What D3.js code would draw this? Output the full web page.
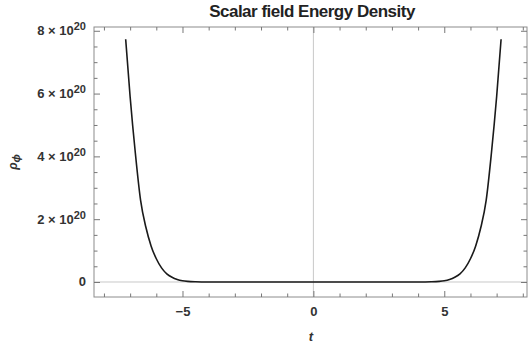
<!DOCTYPE html>
<html><head><meta charset="utf-8">
<script src="https://cdn.jsdelivr.net/npm/d3@7"></script>
<style>body{margin:0;background:#fff}svg{display:block}</style>
</head><body>
<svg id="c" width="528" height="350"></svg>
<script>
const tValues = [-7.17,-7.0,-6.8,-6.6,-6.4,-6.2,-6.0,-5.8,-5.6,-5.4,-5.2,-5.0,-4.8,-4.5,-4.0,-3.0,-2.0,-1.0,0.0,1.0,2.0,3.0,4.0,4.5,4.8,5.0,5.2,5.4,5.6,5.8,6.0,6.2,6.4,6.6,6.8,7.0,7.17];
const rhoValues = [7.73,5.9,4.1,2.6,1.75,1.15,0.74,0.45,0.26,0.15,0.08,0.04,0.02,0.008,0.002,0.0003,0,0,0,0,0,0.0003,0.002,0.008,0.02,0.04,0.08,0.15,0.26,0.45,0.74,1.15,1.75,2.6,4.1,5.9,7.73]; // ×10^20
const xMajor = [-5,0,5];
const xMinor = [-8,-7,-6,-4,-3,-2,-1,1,2,3,4,6,7,8];
const yMajor = [0,2,4,6,8];
const yMinor = [0.5,1,1.5,2.5,3,3.5,4.5,5,5.5,6.5,7,7.5];
const title = "Scalar field Energy Density";

const svg = d3.select("#c");
const L=94,R=527,T=27,B=297;
const x = d3.scaleLinear().domain([-8.38,8.16]).range([L,R]);
const y = d3.scaleLinear().domain([-0.478,8.12]).range([B,T]);
const font = "'Liberation Sans', Arial, sans-serif";

// light axes
svg.append("line").attr("x1",L).attr("x2",R).attr("y1",y(0)).attr("y2",y(0)).attr("stroke","#c8c8c8").attr("stroke-width",1);
svg.append("line").attr("x1",x(0)).attr("x2",x(0)).attr("y1",T).attr("y2",B).attr("stroke","#c8c8c8").attr("stroke-width",1);

// curve
const data = tValues.map((t,i)=>[t,rhoValues[i]]);
svg.append("path").datum(data)
  .attr("d", d3.line().x(d=>x(d[0])).y(d=>y(d[1])).curve(d3.curveMonotoneX))
  .attr("fill","none").attr("stroke","#1a1a1a").attr("stroke-width",1.6);

// frame
svg.append("rect").attr("x",L).attr("y",T).attr("width",R-L).attr("height",B-T)
  .attr("fill","none").attr("stroke","#8c8c8c").attr("stroke-width",1);

const tk = "#777";
function ticks(axisFn, vals, size, tr){
  const g = svg.append("g").attr("transform",tr).call(axisFn.tickValues(vals).tickSize(size).tickFormat(""));
  g.select(".domain").remove(); g.selectAll(".tick line").attr("stroke",tk);
  return g;
}
// bottom with labels
const gB = svg.append("g").attr("transform",`translate(0,${B})`)
  .call(d3.axisBottom(x).tickValues(xMajor).tickSize(-6).tickFormat(d=>d<0?"\u2212"+Math.abs(d):d));
gB.select(".domain").remove();
gB.selectAll(".tick line").attr("stroke",tk);
gB.selectAll(".tick text").attr("dy","1.25em").attr("font-family",font).attr("font-weight","bold").attr("font-size",13).attr("fill","#333");
ticks(d3.axisBottom(x), xMinor, -3.5, `translate(0,${B})`);
ticks(d3.axisTop(x), xMajor, -6, `translate(0,${T})`);
ticks(d3.axisTop(x), xMinor, -3.5, `translate(0,${T})`);
ticks(d3.axisLeft(y), yMajor, -6, `translate(${L},0)`);
ticks(d3.axisLeft(y), yMinor, -3.5, `translate(${L},0)`);
ticks(d3.axisRight(y), yMajor, -6, `translate(${R},0)`);
ticks(d3.axisRight(y), yMinor, -3.5, `translate(${R},0)`);

// y tick labels
yMajor.forEach(v=>{
  const t = svg.append("text").attr("x",86).attr("y",y(v)+4.5).attr("text-anchor","end")
    .attr("font-family",font).attr("font-weight","bold").attr("font-size",13).attr("fill","#333");
  if(v===0){ t.text("0"); }
  else {
    t.append("tspan").text(v+" \u00d7 10");
    t.append("tspan").attr("font-size",11).attr("dy",-5).text("20");
  }
});

// title
svg.append("text").attr("x",312).attr("y",17).attr("text-anchor","middle")
  .attr("font-family",font).attr("font-weight","bold").attr("font-size",17).attr("fill","#222")
  .attr("letter-spacing",-0.5).text(title);

// x label
svg.append("text").attr("x",311).attr("y",341).attr("text-anchor","middle")
  .attr("font-family",font).attr("font-weight","bold").attr("font-style","italic").attr("font-size",13).attr("fill","#333").text("t");

// y label
const yl = svg.append("text").attr("transform","translate(17,162) rotate(-90)").attr("text-anchor","middle")
  .attr("font-family",font).attr("font-weight","bold").attr("font-style","italic").attr("font-size",12).attr("fill","#333");
yl.append("tspan").text("\u03c1");
yl.append("tspan").attr("font-size",11).attr("dy",3).text("\u03d5");
</script>
</body></html>
